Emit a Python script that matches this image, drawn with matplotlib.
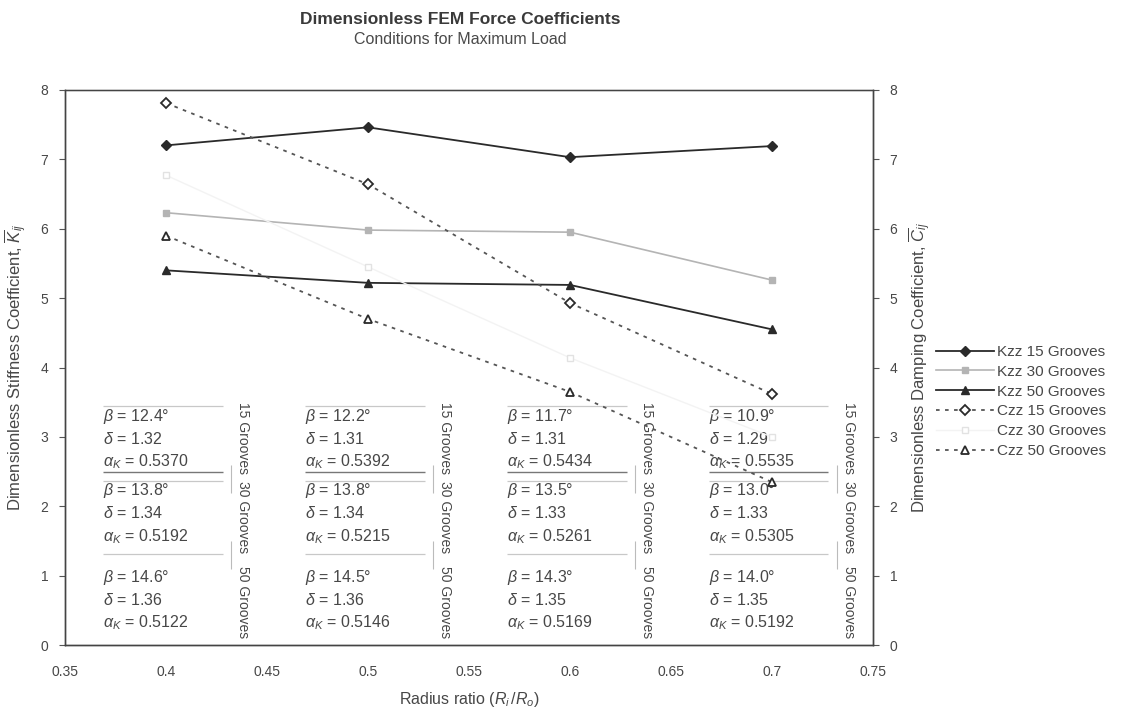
import numpy as np
import matplotlib.pyplot as plt
import matplotlib.ticker as mticker

plt.rcParams['font.family'] = ['Liberation Sans', 'DejaVu Sans']
plt.rcParams['mathtext.fontset'] = 'custom'
plt.rcParams['mathtext.rm'] = 'Liberation Sans'
plt.rcParams['mathtext.it'] = 'Liberation Sans:italic'

# data
x_ratio = [0.4, 0.5, 0.6, 0.7]
kzz15 = [7.20, 7.46, 7.03, 7.19]
kzz30 = [6.23, 5.98, 5.95, 5.26]
kzz50 = [5.40, 5.22, 5.19, 4.55]
czz15 = [7.81, 6.64, 4.93, 3.62]
czz30 = [6.77, 5.45, 4.14, 3.00]
czz50 = [5.90, 4.70, 3.65, 2.35]

grooves = ['15 Grooves', '30 Grooves', '50 Grooves']
beta = [[12.4, 12.2, 11.7, 10.9],
        [13.8, 13.8, 13.5, 13.0],
        [14.6, 14.5, 14.3, 14.0]]
delta = [[1.32, 1.31, 1.31, 1.29],
         [1.34, 1.34, 1.33, 1.33],
         [1.36, 1.36, 1.35, 1.35]]
alpha = [['0.5370', '0.5392', '0.5434', '0.5535'],
         ['0.5192', '0.5215', '0.5261', '0.5305'],
         ['0.5122', '0.5146', '0.5169', '0.5192']]

txt = '#474747'
fig = plt.figure(figsize=(11.22, 7.13), dpi=100)
ax = fig.add_axes([0.058, 0.095, 0.720, 0.779])
ax2 = ax.twinx()

ax.plot(x_ratio, kzz15, color='#2a2a2a', lw=1.3, marker='D', ms=5, label='Kzz 15 Grooves')
ax.plot(x_ratio, kzz30, color='#b4b4b4', lw=1.2, marker='s', ms=5, label='Kzz 30 Grooves')
ax.plot(x_ratio, kzz50, color='#2a2a2a', lw=1.3, marker='^', ms=6, label='Kzz 50 Grooves')
ax2.plot(x_ratio, czz15, color='#555555', lw=1.3, ls=(0, (2, 3)), marker='D', ms=5,
         mfc='white', mec='#2a2a2a', mew=1.3, label='Czz 15 Grooves')
ax2.plot(x_ratio, czz30, color='#f3f3f3', lw=1.0, marker='s', ms=5,
         mfc='white', mec='#e2e2e2', label='Czz 30 Grooves')
ax2.plot(x_ratio, czz50, color='#555555', lw=1.3, ls=(0, (2, 3)), marker='^', ms=6,
         mfc='white', mec='#2a2a2a', mew=1.3, label='Czz 50 Grooves')

for a in (ax, ax2):
    a.set_ylim(0, 8)
    a.set_yticks(np.arange(0, 9, 1))
    a.tick_params(direction='out', length=4, labelsize=10, colors='#555555', labelcolor=txt, pad=8)
    for s in a.spines.values():
        s.set_color('#444444')
        s.set_linewidth(1.0)
ax.spines['top'].set_color('#9a9a9a')
ax.set_xlim(0.35, 0.75)
ax.set_xticks(np.arange(0.35, 0.751, 0.05))
ax.xaxis.set_major_formatter(mticker.FuncFormatter(lambda v, p: f'{v:g}'))
ax.tick_params(axis='x', length=0, pad=14)

ax.set_xlabel(r'Radius ratio ($R_i\,/R_o$)', fontsize=11.5, color=txt, labelpad=8)
ax.set_ylabel(r'Dimensionless Stiffness Coefficient, $\overline{K}_{ij}$', fontsize=12, color=txt, labelpad=8)
ax2.set_ylabel(r'Dimensionless Damping Coefficient, $\overline{C}_{ij}$', fontsize=12, color=txt, labelpad=6)

fig.text(0.41, 0.972, 'Dimensionless FEM Force Coefficients', ha='center', va='center', fontsize=12.5,
         fontweight='bold', color='#3a3a3a')
fig.text(0.41, 0.944, 'Conditions for Maximum Load', ha='center', va='center', fontsize=11.5, color='#4a4a4a')

# parameter boxes under each radius ratio
row_top = [3.30, 2.23, 0.98]
step = 0.33
for j, xc in enumerate(x_ratio):
    x0 = xc - 0.031
    for i in range(3):
        y = row_top[i]
        ax.text(x0, y, r'$\beta$ = %.1f°' % beta[i][j], fontsize=11.5, color=txt, va='center')
        ax.text(x0, y - step, r'$\delta$ = %.2f' % delta[i][j], fontsize=11.5, color=txt, va='center')
        ax.text(x0, y - 2 * step, r'$\alpha_K$ = ' + alpha[i][j], fontsize=11.5, color=txt, va='center')
    for i, yc in enumerate([2.98, 1.85, 0.62]):
        ax.text(xc + 0.038, yc, grooves[i], rotation=-90, fontsize=10, color=txt,
                ha='center', va='center')
    ax.hlines(3.45, x0, xc + 0.028, color='#c8c8c8', lw=0.9)
    ax.hlines(2.49, x0, xc + 0.028, color='#777777', lw=1.0)
    ax.hlines(2.36, x0, xc + 0.028, color='#c8c8c8', lw=0.9)
    ax.hlines(1.31, x0, xc + 0.028, color='#c8c8c8', lw=0.9)
    ax.vlines(xc + 0.032, 2.2, 2.6, color='#bbbbbb', lw=0.8)
    ax.vlines(xc + 0.032, 1.1, 1.5, color='#bbbbbb', lw=0.8)

h1, l1 = ax.get_legend_handles_labels()
h2, l2 = ax2.get_legend_handles_labels()
fig.legend(h1 + h2, l1 + l2, loc='center left', bbox_to_anchor=(0.822, 0.437),
           frameon=False, fontsize=11, handlelength=3.8, labelspacing=0.38,
           handletextpad=0.2, labelcolor=txt)

fig.savefig('out.png', dpi=100)
